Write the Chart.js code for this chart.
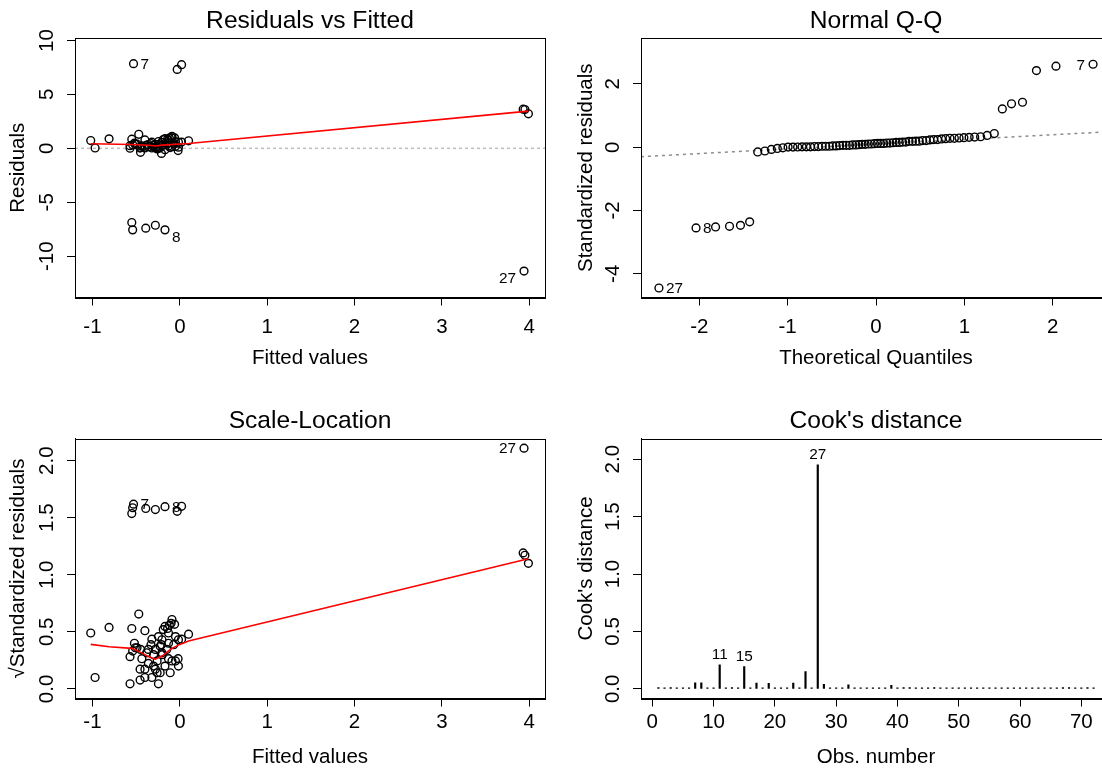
<!DOCTYPE html>
<html>
<head>
<meta charset="utf-8">
<script src="https://cdn.jsdelivr.net/npm/chart.js@4.4.1/dist/chart.umd.min.js"></script>
<style>
  html, body { margin: 0; padding: 0; background: #fff; overflow: hidden; }
  #wrap { position: relative; width: 1102px; height: 773px; overflow: hidden; }
  canvas { position: absolute; }
</style>
</head>
<body>
<div id="wrap">
  <canvas id="rvf" width="556" height="386" style="left:0;top:0"></canvas>
  <canvas id="qq" width="569" height="386" style="left:556px;top:0"></canvas>
  <canvas id="sl" width="556" height="387" style="left:0;top:386px"></canvas>
  <canvas id="cook" width="569" height="387" style="left:556px;top:386px"></canvas>
</div>
<script>
const fitted = [
  -1.02, -0.97, -0.81, -0.47, -0.55, -0.57, -0.53, -0.17, -0.57, -0.40, 3.93, -0.45,
  -0.21, -0.02, 3.95, -0.52, -0.55, -0.54, -0.03, -0.49, -0.455, -0.40, -0.54, -0.32,
  3.99, -0.38, 3.94, -0.39, -0.28, -0.225, -0.26, 0.02, -0.36, -0.28, -0.32, -0.40,
  -0.245, -0.225, -0.28, -0.19, -0.17, -0.09, -0.13, -0.05, -0.016, 0.10, -0.13, -0.09,
  -0.05, -0.016, -0.11, -0.17, -0.435, -0.205, -0.245, -0.36, -0.205, -0.30, -0.455, -0.26,
  -0.13, 0.02, -0.51, -0.33, -0.15, -0.07, -0.12, -0.10, -0.20, -0.30, -0.06, -0.14
];
const resid = [
  0.72, 0.03, 0.88, 1.30, 0.85, 0.01, 7.85, -7.56, 0.25, 0.78, 3.63, -0.37,
  -0.47, -0.21, 3.60, 0.48, -6.88, 0.33, 7.32, 0.39, 0.09, 0.03, -7.56, 0.57,
  3.20, 0.30, -11.38, -7.40, 0.36, 0.42, 0.18, 7.76, 0.15, 0.09, 0.03, 0.10,
  0.00, 0.05, -7.13, 0.81, 0.90, 1.12, 0.72, 0.63, 0.56, 0.70, 0.22, 0.18,
  0.19, 0.11, 0.07, -0.12, 0.22, 0.56, 0.63, 0.35, 0.29, 0.12, 0.02, -0.05,
  0.48, 0.58, 0.39, 0.45, 0.37, 0.46, 0.94, 1.00, 0.27, 0.28, 0.97, 0.85
];
const stdRes = [
  0.24, 0.01, 0.29, 0.43, 0.28, 0.002, 2.62, -2.55, 0.08, 0.26, 1.42, -0.12,
  -0.15, -0.07, 1.37, 0.16, -2.36, 0.11, 2.42, 0.13, 0.03, 0.01, -2.52, 0.19,
  1.21, 0.10, -4.45, -2.50, 0.12, 0.14, 0.06, 2.56, 0.05, 0.03, 0.01, 0.03,
  0.002, 0.02, -2.47, 0.27, 0.30, 0.37, 0.24, 0.21, 0.185, 0.23, 0.07, 0.06,
  0.06, 0.04, 0.02, -0.04, 0.07, 0.185, 0.21, 0.12, 0.10, 0.04, 0.006, -0.02,
  0.16, 0.19, 0.13, 0.15, 0.12, 0.15, 0.31, 0.33, 0.09, 0.09, 0.32, 0.28
];
const cooksD = [
  0.010, 0.008, 0.011, 0.009, 0.009, 0.008, 0.052, 0.052, 0.008, 0.009, 0.210, 0.009,
  0.010, 0.008, 0.195, 0.008, 0.050, 0.009, 0.048, 0.008, 0.008, 0.009, 0.050, 0.008,
  0.150, 0.009, 1.950, 0.040, 0.008, 0.009, 0.008, 0.035, 0.008, 0.008, 0.009, 0.008,
  0.008, 0.008, 0.030, 0.009, 0.010, 0.010, 0.009, 0.008, 0.008, 0.010, 0.008, 0.008,
  0.008, 0.008, 0.008, 0.008, 0.008, 0.009, 0.009, 0.008, 0.008, 0.008, 0.008, 0.008,
  0.009, 0.009, 0.008, 0.009, 0.008, 0.009, 0.010, 0.010, 0.008, 0.008, 0.010, 0.009
];
// normal quantiles for the 72 sorted residuals
const qqTheory = [
  -2.457, -2.037, -1.816, -1.658, -1.534, -1.430, -1.339, -1.258, -1.184, -1.117, -1.054, -0.995,
  -0.940, -0.887, -0.837, -0.788, -0.742, -0.697, -0.653, -0.610, -0.569, -0.528, -0.489, -0.450,
  -0.412, -0.374, -0.337, -0.300, -0.264, -0.228, -0.193, -0.157, -0.122, -0.087, -0.052, -0.017,
  0.017, 0.052, 0.087, 0.122, 0.157, 0.193, 0.228, 0.264, 0.300, 0.337, 0.374, 0.412,
  0.450, 0.489, 0.528, 0.569, 0.610, 0.653, 0.697, 0.742, 0.788, 0.837, 0.887, 0.940,
  0.995, 1.054, 1.117, 1.184, 1.258, 1.339, 1.430, 1.534, 1.658, 1.816, 2.037, 2.457
];
// red smoothers and the q-q reference line, as drawn
const rvfSmoothX = [-1.02, -0.55, -0.35, -0.28, -0.20, 0.0, 0.10, 3.99];
const rvfSmoothY = [0.42, 0.36, 0.28, 0.22, 0.30, 0.40, 0.45, 3.45];
const slSmoothX = [-1.02, -0.81, -0.55, -0.45, -0.35, -0.28, -0.20, -0.10, 0.0, 0.10, 3.99];
const slSmoothY = [0.39, 0.37, 0.355, 0.32, 0.28, 0.26, 0.29, 0.35, 0.39, 0.42, 1.14];
const qqLineX = [-2.66, 2.66];
const qqLineY = [-0.30, 0.49];
// labelled observations
const idResid = [7, 8, 27];
const idCook = [27, 11, 15];
// axis limits and tick labels
const fitLim = [-1.2, 4.18];
const residLim = [-13.83, 10.23];
const qqXLim = [-2.66, 2.66];
const qqYLim = [-4.75, 3.45];
const slLim = [-0.084, 2.194];
const obsLim = [-1.84, 74.84];
const cookLim = [-0.084, 2.18];
const fitTicks = [-1, 0, 1, 2, 3, 4];
const residTicks = [-10, -5, 0, 5, 10];
const qqXTicks = [-2, -1, 0, 1, 2];
const qqYTicks = [-4, -2, 0, 2];
const slTicks = [0, 0.5, 1, 1.5, 2];
const cookTicks = [0, 0.5, 1, 1.5, 2];
const obsTicks = [0, 10, 20, 30, 40, 50, 60, 70];

const FONT = '"Liberation Sans", Arial, Helvetica, sans-serif';
const FS = 20.5;
Chart.defaults.font.family = FONT;
Chart.defaults.color = '#000';

const pts = (xs, ys) => xs.map((x, i) => ({ x: x, y: ys[i] }));
const oneDec = v => v.toFixed(1);

function xAxis(lim, ticks, title, h, tickPad, titlePad, fmt) {
  return {
    type: 'linear', position: 'bottom', min: lim[0], max: lim[1], offset: false,
    afterBuildTicks: s => { s.ticks = ticks.map(v => ({ value: v })); },
    afterFit: s => { s.height = h; },
    ticks: { autoSkip: false, minRotation: 0, maxRotation: 0, padding: tickPad,
             font: { size: FS }, color: '#000', callback: fmt || (v => String(v)) },
    grid: { drawOnChartArea: false, drawTicks: true, tickLength: 8, color: '#000', lineWidth: 1, offset: false },
    border: { display: true, color: '#000', width: 1 },
    title: { display: true, text: title, font: { size: FS }, color: '#000', padding: { top: 0, bottom: titlePad } }
  };
}

function yAxis(lim, ticks, title, w, tickPad, titlePad, fmt) {
  return {
    type: 'linear', position: 'left', min: lim[0], max: lim[1],
    afterBuildTicks: s => { s.ticks = ticks.map(v => ({ value: v })); },
    afterFit: s => { s.width = w; },
    ticks: { autoSkip: false, minRotation: 90, maxRotation: 90, crossAlign: 'center', padding: tickPad,
             font: { size: FS }, color: '#000', callback: fmt || (v => String(v)) },
    grid: { drawOnChartArea: false, drawTicks: true, tickLength: 8, color: '#000', lineWidth: 1 },
    border: { display: true, color: '#000', width: 1 },
    title: { display: true, text: title, font: { size: FS }, color: '#000', padding: { top: titlePad, bottom: 0 } }
  };
}

// box round the plot region, like R's box()
const boxPlugin = {
  id: 'rBox',
  afterDraw(chart) {
    const { ctx, chartArea: a } = chart;
    ctx.save();
    ctx.strokeStyle = '#000';
    ctx.lineWidth = 1;
    ctx.strokeRect(Math.round(a.left) + 0.5, Math.round(a.top) + 0.5,
                   Math.round(a.right - a.left), Math.round(a.bottom - a.top));
    ctx.restore();
  }
};

// caption centred over the plot region
const captionPlugin = {
  id: 'caption',
  afterDraw(chart, args, opts) {
    const { ctx, chartArea: a } = chart;
    ctx.save();
    ctx.font = (FS * 1.2) + 'px ' + FONT;
    ctx.fillStyle = '#000';
    ctx.textAlign = 'center';
    ctx.textBaseline = 'middle';
    ctx.fillText(opts.text, (a.left + a.right) / 2, a.top - opts.gap);
    ctx.restore();
  }
};

// observation numbers next to the extreme points
const idPlugin = {
  id: 'ids',
  afterDatasetsDraw(chart, args, opts) {
    const { ctx, scales: { x, y } } = chart;
    ctx.save();
    ctx.font = (FS * 0.75) + 'px ' + FONT;
    ctx.fillStyle = '#000';
    ctx.textBaseline = 'middle';
    opts.items.forEach(it => {
      ctx.textAlign = it.align;
      ctx.fillText(it.text, x.getPixelForValue(it.x) + it.dx, y.getPixelForValue(it.y) + it.dy);
    });
    ctx.restore();
  }
};

function sideLabel(x, yv, text, mid, dyNeg) {
  const right = x > mid;
  return { text: text, x: x, y: yv, align: right ? 'right' : 'left', dx: right ? -8 : 7, dy: yv < 0 ? dyNeg : 1 };
}

const pointStyle = {
  showLine: false, pointRadius: 3.9, pointStyle: 'circle',
  pointBorderColor: '#000', pointBackgroundColor: 'rgba(0,0,0,0)', pointBorderWidth: 1.4
};
const base = {
  responsive: false, animation: false,
  plugins: { legend: { display: false }, tooltip: { enabled: false } }
};
const fitMid = (fitLim[0] + fitLim[1]) / 2;

// Residuals vs Fitted
new Chart(document.getElementById('rvf'), {
  type: 'scatter',
  data: {
    datasets: [
      { data: pts(rvfSmoothX, rvfSmoothY), showLine: true, borderColor: '#FF0000', borderWidth: 1.6, pointRadius: 0 },
      { data: pts(fitted, resid), ...pointStyle },
      { data: pts(fitLim, [0, 0]), showLine: true, borderColor: '#BEBEBE', borderDash: [3, 3], borderWidth: 1.5, pointRadius: 0 }
    ]
  },
  options: {
    ...base,
    layout: { padding: { left: 0, top: 38, right: 11, bottom: 0 } },
    scales: {
      x: xAxis(fitLim, fitTicks, 'Fitted values', 88.5, 9.2, 15.7),
      y: yAxis(residLim, residTicks, 'Residuals', 75, 5.2, 5.7)
    },
    plugins: {
      ...base.plugins,
      caption: { text: 'Residuals vs Fitted', gap: 17 },
      ids: { items: idResid.map(o => sideLabel(fitted[o - 1], resid[o - 1], String(o), fitMid, 8)) }
    }
  },
  plugins: [boxPlugin, captionPlugin, idPlugin]
});

// Normal Q-Q
const order = stdRes.map((v, i) => i).sort((a, b) => stdRes[a] - stdRes[b]);
const qqSample = order.map(i => stdRes[i]);
const qqItems = idResid.map(o => {
  const r = order.indexOf(o - 1);
  return sideLabel(qqTheory[r], qqSample[r], String(o), 0, 1);
});
new Chart(document.getElementById('qq'), {
  type: 'scatter',
  data: {
    datasets: [
      { data: pts(qqTheory, qqSample), ...pointStyle },
      { data: pts(qqLineX, qqLineY), showLine: true, borderColor: '#8C8C8C', borderDash: [3, 4], borderWidth: 1.5, pointRadius: 0 }
    ]
  },
  options: {
    ...base,
    layout: { padding: { left: 0, top: 38, right: 14, bottom: 0 } },
    scales: {
      x: xAxis(qqXLim, qqXTicks, 'Theoretical Quantiles', 88.5, 9.2, 15.7),
      y: yAxis(qqYLim, qqYTicks, 'Standardized residuals', 85, 10.9, 17.7)
    },
    plugins: {
      ...base.plugins,
      caption: { text: 'Normal Q-Q', gap: 17 },
      ids: { items: qqItems }
    }
  },
  plugins: [boxPlugin, captionPlugin, idPlugin]
});

// Scale-Location
const rootAbs = stdRes.map(v => Math.sqrt(Math.abs(v)));
new Chart(document.getElementById('sl'), {
  type: 'scatter',
  data: {
    datasets: [
      { data: pts(slSmoothX, slSmoothY), showLine: true, borderColor: '#FF0000', borderWidth: 1.6, pointRadius: 0 },
      { data: pts(fitted, rootAbs), ...pointStyle }
    ]
  },
  options: {
    ...base,
    layout: { padding: { left: 0, top: 52.5, right: 11, bottom: 0 } },
    scales: {
      x: xAxis(fitLim, fitTicks, 'Fitted values', 74.5, 3.2, 3.7),
      y: yAxis(slLim, slTicks, '\u221aStandardized residuals', 75, 5.75, 5.7, oneDec)
    },
    plugins: {
      ...base.plugins,
      caption: { text: 'Scale-Location', gap: 17.5 },
      ids: { items: idResid.map(o => sideLabel(fitted[o - 1], rootAbs[o - 1], String(o), fitMid, 0)) }
    }
  },
  plugins: [boxPlugin, captionPlugin, idPlugin]
});

// Cook's distance
const obsNo = cooksD.map((d, i) => i + 1);
new Chart(document.getElementById('cook'), {
  type: 'bar',
  data: {
    datasets: [
      { data: pts(obsNo, cooksD), backgroundColor: '#000', borderWidth: 0, barThickness: 1.5, grouped: false }
    ]
  },
  options: {
    ...base,
    layout: { padding: { left: 0, top: 52.5, right: 14, bottom: 0 } },
    scales: {
      x: xAxis(obsLim, obsTicks, 'Obs. number', 74.5, 3.2, 3.7),
      y: yAxis(cookLim, cookTicks, "Cook's distance", 85, 5.75, 17.7, oneDec)
    },
    plugins: {
      ...base.plugins,
      caption: { text: "Cook's distance", gap: 17.5 },
      ids: { items: idCook.map(o => ({ text: String(o), x: o, y: cooksD[o - 1], align: 'center', dx: 0, dy: -10 })) }
    }
  },
  plugins: [boxPlugin, captionPlugin, idPlugin]
});
</script>
</body>
</html>
